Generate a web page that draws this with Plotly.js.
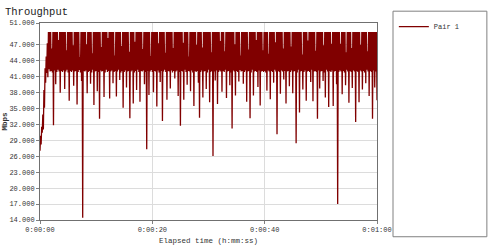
<!DOCTYPE html>
<html>
<head>
<meta charset="utf-8">
<script src="https://cdn.plot.ly/plotly-3.0.1.min.js"></script>
<style>html,body{margin:0;padding:0;background:#fff;}#chart{width:500px;height:249px;}</style>
</head>
<body>
<div id="chart"></div>
<script>
// Throughput samples (Mbps), one every 0.1 s from 0:00:00 to 0:01:00
const sampleInterval = 0.1;
const seriesName = "Pair 1";
const throughput = [
  27.0, 29.8, 28.2, 31.5, 30.4, 33.8, 31.0, 38.4, 35.1, 42.5, 39.8, 44.7, 41.6, 47.2, 40.8, 49.3, 42.3, 49.3, 41.9, 49.3,
  42.0, 46.2, 41.7, 49.3, 31.8, 49.3, 42.1, 49.3, 39.5, 49.3, 41.8, 49.3, 42.2, 47.8, 41.9, 49.3, 37.9, 49.3, 42.0, 49.3,
  41.8, 49.3, 42.1, 49.3, 38.6, 49.3, 41.9, 45.9, 42.2, 49.3, 41.7, 49.3, 36.4, 49.3, 42.0, 49.3, 41.8, 49.3, 42.1, 46.8,
  39.2, 49.3, 41.9, 49.3, 42.0, 49.3, 35.7, 49.3, 41.8, 49.3, 42.2, 44.6, 41.7, 49.3, 40.1, 49.3, 14.4, 49.3, 42.0, 49.3,
  41.9, 49.3, 42.1, 47.0, 37.8, 49.3, 41.8, 49.3, 42.0, 49.3, 39.6, 49.3, 41.7, 45.3, 42.2, 49.3, 35.6, 49.3, 41.9, 49.3,
  42.0, 49.3, 38.2, 49.3, 41.8, 49.3, 33.0, 49.3, 42.1, 46.5, 41.9, 49.3, 42.0, 49.3, 37.1, 49.3, 41.7, 49.3, 42.2, 49.3,
  41.8, 48.2, 42.0, 49.3, 36.8, 49.3, 41.9, 49.3, 42.1, 49.3, 39.7, 49.3, 41.8, 44.9, 42.0, 49.3, 37.2, 49.3, 41.9, 49.3,
  42.2, 49.3, 40.3, 49.3, 41.7, 46.7, 42.0, 49.3, 35.1, 49.3, 41.8, 49.3, 42.1, 49.3, 38.9, 49.3, 41.9, 49.3, 42.0, 45.6,
  33.1, 49.3, 41.9, 49.3, 42.1, 49.3, 35.9, 49.3, 41.7, 47.5, 42.0, 49.3, 38.4, 49.3, 42.2, 49.3, 41.8, 49.3, 36.2, 49.3,
  42.0, 49.3, 41.9, 46.1, 42.1, 49.3, 39.5, 49.3, 41.8, 49.3, 27.3, 49.3, 42.0, 49.3, 37.5, 49.3, 41.9, 44.8, 42.2, 49.3,
  41.8, 49.3, 38.0, 49.3, 42.0, 49.3, 41.9, 49.3, 35.3, 49.3, 42.1, 47.2, 41.7, 49.3, 39.9, 49.3, 42.0, 49.3, 32.6, 49.3,
  41.9, 49.3, 42.2, 45.4, 41.8, 49.3, 36.6, 49.3, 42.0, 49.3, 41.9, 49.3, 38.7, 49.3, 42.1, 49.3, 41.7, 46.3, 42.0, 49.3,
  40.6, 49.3, 41.9, 49.3, 42.1, 49.3, 37.3, 49.3, 41.8, 49.3, 31.7, 49.3, 42.0, 49.3, 41.9, 47.3, 36.6, 49.3, 42.2, 49.3,
  41.8, 49.3, 39.4, 49.3, 42.0, 44.7, 41.9, 49.3, 38.2, 49.3, 42.1, 49.3, 41.7, 49.3, 35.4, 49.3, 42.0, 49.3, 41.8, 46.9,
  42.0, 49.3, 39.8, 49.3, 33.2, 49.3, 41.8, 49.3, 42.1, 46.4, 37.0, 49.3, 41.9, 49.3, 42.0, 49.3, 38.6, 49.3, 41.7, 49.3,
  42.2, 49.3, 36.1, 49.3, 41.8, 45.5, 42.0, 49.3, 26.0, 49.3, 41.9, 49.3, 40.2, 49.3, 42.1, 49.3, 35.8, 49.3, 41.8, 49.3,
  42.1, 47.6, 41.9, 49.3, 38.1, 49.3, 42.0, 49.3, 41.8, 45.7, 42.2, 49.3, 36.9, 49.3, 41.9, 49.3, 42.0, 49.3, 39.3, 49.3,
  41.7, 49.3, 31.2, 49.3, 42.1, 49.3, 41.9, 47.0, 37.4, 49.3, 42.0, 49.3, 41.8, 49.3, 40.0, 49.3, 42.2, 44.9, 41.9, 49.3,
  42.0, 49.3, 39.6, 49.3, 41.8, 49.3, 42.1, 49.3, 36.2, 49.3, 41.9, 46.0, 42.0, 49.3, 33.1, 49.3, 41.7, 49.3, 42.2, 49.3,
  37.4, 49.3, 41.9, 49.3, 42.0, 47.8, 41.8, 49.3, 39.0, 49.3, 42.1, 49.3, 35.5, 49.3, 41.9, 49.3, 42.0, 45.9, 41.8, 49.3,
  42.0, 49.3, 41.7, 49.3, 38.3, 49.3, 42.1, 45.2, 41.9, 49.3, 36.7, 49.3, 42.0, 49.3, 41.8, 49.3, 39.8, 49.3, 42.2, 47.4,
  41.9, 49.3, 30.1, 49.3, 42.0, 49.3, 41.8, 49.3, 37.7, 49.3, 42.1, 49.3, 41.9, 46.2, 40.4, 49.3, 42.0, 49.3, 35.9, 49.3,
  41.9, 49.3, 42.0, 49.3, 39.1, 49.3, 41.8, 46.6, 42.1, 49.3, 37.8, 49.3, 41.9, 49.3, 42.0, 49.3, 28.4, 49.3, 41.7, 49.3,
  42.2, 49.3, 34.2, 49.3, 41.9, 49.3, 42.0, 45.1, 38.5, 49.3, 41.8, 49.3, 42.1, 49.3, 36.4, 49.3, 41.9, 47.7, 42.0, 49.3,
  41.8, 49.3, 39.9, 49.3, 42.2, 49.3, 36.3, 49.3, 41.9, 49.3, 42.0, 45.8, 41.8, 49.3, 33.0, 49.3, 42.1, 49.3, 38.7, 49.3,
  41.9, 49.3, 42.0, 49.3, 40.1, 46.8, 41.7, 49.3, 37.0, 49.3, 42.2, 49.3, 41.9, 49.3, 35.2, 49.3, 42.0, 49.3, 41.8, 47.1,
  42.1, 49.3, 35.4, 49.3, 41.9, 49.3, 42.0, 49.3, 39.5, 49.3, 17.0, 49.3, 41.8, 49.3, 42.1, 47.1, 41.9, 49.3, 37.6, 49.3,
  42.0, 49.3, 41.7, 49.3, 39.3, 45.5, 42.2, 49.3, 41.9, 49.3, 36.0, 49.3, 42.0, 49.3, 41.8, 46.3, 38.8, 49.3, 42.1, 49.3,
  41.9, 49.3, 32.4, 49.3, 42.0, 49.3, 41.8, 49.3, 36.1, 49.3, 42.1, 46.9, 41.9, 49.3, 38.5, 49.3, 42.0, 49.3, 41.7, 49.3,
  39.7, 49.3, 42.2, 45.7, 41.9, 49.3, 37.3, 49.3, 42.0, 49.3, 41.8, 49.3, 33.0, 49.3, 42.1, 49.3, 38.9, 49.3, 41.9, 49.3,
  36.5
];
const xTickValues = [0, 20, 40, 60];
const xTickLabels = ["0:00:00", "0:00:20", "0:00:40", "0:01:00"];
const yTickValues = [14, 17, 20, 23, 26, 29, 32, 35, 38, 41, 44, 47, 51];

const elapsed = throughput.map((_, i) => +(i * sampleInterval).toFixed(2));

const mono = "Liberation Mono, DejaVu Sans Mono, monospace";

const trace = {
  x: elapsed,
  y: throughput,
  type: "scatter",
  mode: "lines",
  name: seriesName,
  line: {color: "#800000", width: 1.3},
  hoverinfo: "skip"
};

const layout = {
  width: 500, height: 249,
  margin: {l: 40, r: 123, t: 20, b: 29, pad: 0},
  paper_bgcolor: "#ffffff",
  plot_bgcolor: "#ffffff",
  font: {family: mono, size: 7, color: "#333333"},
  title: {
    text: "Throughput",
    font: {family: mono, size: 10.5, color: "#222222"},
    x: 0.01, xanchor: "left", xref: "container",
    y: 0.97, yanchor: "top", yref: "container"
  },
  showlegend: true,
  legend: {
    x: 1.05, xanchor: "left", y: 1.055, yanchor: "top",
    bgcolor: "rgba(0,0,0,0)", borderwidth: 0,
    font: {family: mono, size: 7, color: "#333333"},
    itemwidth: 30
  },
  xaxis: {
    range: [0, 60],
    tickmode: "array", tickvals: xTickValues, ticktext: xTickLabels,
    ticks: "outside", ticklen: 3, tickcolor: "#808080",
    showgrid: true, gridcolor: "#dcdcdc", gridwidth: 1,
    showline: true, linecolor: "#707070", linewidth: 1, mirror: true,
    zeroline: false,
    tickfont: {family: mono, size: 7, color: "#333333"},
    title: {text: "Elapsed time (h:mm:ss)", font: {family: mono, size: 7.5, color: "#333333"}, standoff: 4},
    automargin: false
  },
  yaxis: {
    range: [14, 51],
    tickmode: "array", tickvals: yTickValues,
    tickformat: ".3f",
    ticks: "outside", ticklen: 3, tickcolor: "#808080",
    showgrid: true, gridcolor: "#dcdcdc", gridwidth: 1,
    showline: true, linecolor: "#707070", linewidth: 1, mirror: true,
    zeroline: false,
    tickfont: {family: mono, size: 7, color: "#333333"},
    title: {text: "<b>Mbps</b>", font: {family: mono, size: 7.5, color: "#333333"}, standoff: 0},
    automargin: false
  },
  shapes: [{
    type: "rect", xref: "paper", yref: "paper",
    x0: 1.0475, x1: 1.326, y0: -0.085, y1: 1.06,
    line: {color: "#808080", width: 1}, fillcolor: "rgba(0,0,0,0)"
  }]
};

Plotly.newPlot("chart", [trace], layout, {staticPlot: true, displayModeBar: false});
</script>
</body>
</html>
